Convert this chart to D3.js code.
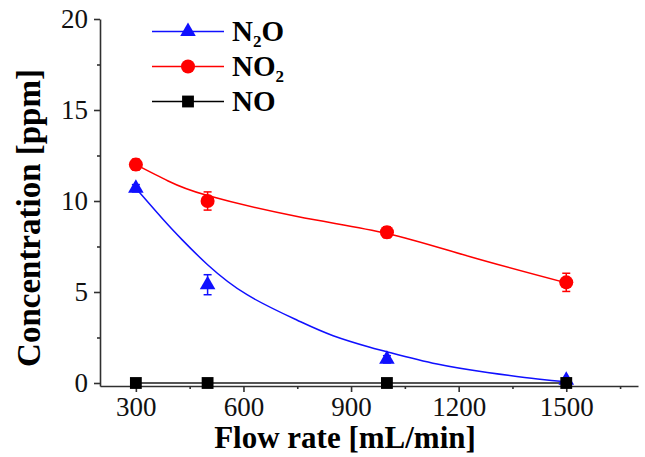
<!DOCTYPE html>
<html>
<head>
<meta charset="utf-8">
<script src="https://cdn.jsdelivr.net/npm/d3@7"></script>
<style>
  html, body { margin: 0; padding: 0; background: #fff; }
  svg { display: block; font-family: "Liberation Serif", "Times New Roman", serif; }
</style>
</head>
<body>
<div id="chart"></div>
<script>
const WIDTH = 645;
const HEIGHT = 457;

// measured points
const FLOW = [300, 500, 1000, 1500];
const N2O = [10.7, 5.4, 1.3, 0.15];
const N2O_ERR = [0.2, 0.55, 0.2, 0.1];
const NO2 = [12.0, 10.0, 8.28, 5.53];
const NO2_ERR = [0.3, 0.5, 0.3, 0.5];
const NO = [0, 0, 0, 0];

// fitted curves
const N2O_FIT_X = [300, 380, 430, 500, 610, 750, 850, 950, 1000, 1140, 1280, 1420, 1500];
const N2O_FIT_Y = [10.7, 8.9, 7.85, 6.5, 4.85, 3.45, 2.6, 1.98, 1.72, 1.04, 0.58, 0.22, 0.07];
const NO2_FIT_X = [300, 390, 500, 750, 1000, 1230, 1500];
const NO2_FIT_Y = [12.0, 11.1, 10.3, 9.15, 8.22, 6.95, 5.5];

const X_TICKS = [300, 600, 900, 1200, 1500];
const X_MINOR = [450, 750, 1050, 1350, 1650];
const Y_TICKS = [0, 5, 10, 15, 20];
const Y_MINOR = [2.5, 7.5, 12.5, 17.5];

const BLUE = "#1010ff";
const RED = "#ff0000";
const BLACK = "#000000";
const AXIS = "#303030";

const x = d3.scaleLinear().domain([200, 1700]).range([100, 638]);
const y = d3.scaleLinear().domain([-0.165, 20]).range([386, 19]);

const svg = d3.select("#chart").append("svg")
  .attr("width", WIDTH)
  .attr("height", HEIGHT);

// axes
svg.append("g")
  .attr("transform", `translate(0,${y(-0.165)})`)
  .call(d3.axisBottom(x).tickValues(X_TICKS).tickSize(6).tickSizeOuter(0).tickPadding(5).tickFormat(d3.format("d")));
svg.append("g")
  .attr("transform", `translate(0,${y(-0.165)})`)
  .call(d3.axisBottom(x).tickValues(X_MINOR).tickSize(3).tickSizeOuter(0).tickFormat(""))
  .call((g) => g.select(".domain").remove());

svg.append("g")
  .attr("transform", `translate(${x(200)},0)`)
  .call(d3.axisLeft(y).tickValues(Y_TICKS).tickSize(6).tickSizeOuter(0).tickPadding(6));
svg.append("g")
  .attr("transform", `translate(${x(200)},0)`)
  .call(d3.axisLeft(y).tickValues(Y_MINOR).tickSize(3).tickSizeOuter(0).tickFormat(""))
  .call((g) => g.select(".domain").remove());

svg.selectAll(".domain, .tick line")
  .attr("stroke", AXIS)
  .attr("stroke-width", 1.6);
svg.selectAll("g").attr("font-size", null).attr("font-family", null);
svg.selectAll(".tick text")
  .attr("fill", "#111")
  .attr("font-family", "'Liberation Serif', serif")
  .attr("font-size", 27);

// axis titles
svg.append("text")
  .attr("x", 345)
  .attr("y", 448)
  .attr("text-anchor", "middle")
  .style("font-size", "31px")
  .style("font-weight", "bold")
  .text("Flow rate [mL/min]");

svg.append("text")
  .attr("transform", "translate(40,218) rotate(-90)")
  .attr("text-anchor", "middle")
  .style("font-size", "33px")
  .style("font-weight", "bold")
  .text("Concentration [ppm]");

// fit lines
const line = d3.line().x((d) => x(d[0])).y((d) => y(d[1])).curve(d3.curveNatural);

svg.append("path")
  .datum(d3.zip(NO2_FIT_X, NO2_FIT_Y))
  .attr("fill", "none")
  .attr("stroke", RED)
  .attr("stroke-width", 1.5)
  .attr("d", line);

svg.append("path")
  .datum(d3.zip(N2O_FIT_X, N2O_FIT_Y))
  .attr("fill", "none")
  .attr("stroke", BLUE)
  .attr("stroke-width", 1.5)
  .attr("d", line);

svg.append("path")
  .datum(d3.zip(FLOW, NO))
  .attr("fill", "none")
  .attr("stroke", "#555")
  .attr("stroke-width", 2)
  .attr("d", d3.line().x((d) => x(d[0])).y((d) => y(d[1])));

// error bars
function errorBars(vals, errs, color) {
  const g = svg.append("g").attr("stroke", color).attr("stroke-width", 1.5);
  FLOW.forEach((f, i) => {
    const cx = x(f);
    const top = y(vals[i] + errs[i]);
    const bot = y(vals[i] - errs[i]);
    g.append("line").attr("x1", cx).attr("x2", cx).attr("y1", top).attr("y2", bot);
    g.append("line").attr("x1", cx - 4).attr("x2", cx + 4).attr("y1", top).attr("y2", top);
    g.append("line").attr("x1", cx - 4).attr("x2", cx + 4).attr("y1", bot).attr("y2", bot);
  });
}
errorBars(NO2, NO2_ERR, RED);
errorBars(N2O, N2O_ERR, BLUE);

// markers
const triangle = d3.symbol().type(d3.symbolTriangle).size(105);
const circle = d3.symbol().type(d3.symbolCircle).size(155);
const square = d3.symbol().type(d3.symbolSquare).size(140);

function markers(vals, sym, color) {
  svg.append("g")
    .selectAll("path")
    .data(FLOW.map((f, i) => [f, vals[i]]))
    .join("path")
    .attr("transform", (d) => `translate(${x(d[0])},${y(d[1])})`)
    .attr("d", sym)
    .attr("fill", color);
}
markers(NO2, circle, RED);
markers(N2O, triangle, BLUE);
markers(NO, square, BLACK);

// legend
const LEGEND = [
  { name: ["N", "2", "O"], color: BLUE, sym: triangle },
  { name: ["NO", "2", ""], color: RED, sym: circle },
  { name: ["NO", "", ""], color: BLACK, sym: square },
];
const lg = svg.append("g");
LEGEND.forEach((d, i) => {
  const cy = 31.5 + i * 35;
  lg.append("line")
    .attr("x1", 152).attr("x2", 224)
    .attr("y1", cy).attr("y2", cy)
    .attr("stroke", d.color)
    .attr("stroke-width", 1.5);
  lg.append("path")
    .attr("transform", `translate(188,${cy})`)
    .attr("d", d.sym)
    .attr("fill", d.color);
  const t = lg.append("text")
    .attr("x", 232)
    .attr("y", cy + 9)
    .style("font-size", "29px")
    .style("font-weight", "bold");
  t.append("tspan").text(d.name[0]);
  if (d.name[1]) {
    t.append("tspan").attr("dy", 6).style("font-size", "17px").text(d.name[1]);
    if (d.name[2]) t.append("tspan").attr("dy", -6).text(d.name[2]);
  }
});
</script>
</body>
</html>
